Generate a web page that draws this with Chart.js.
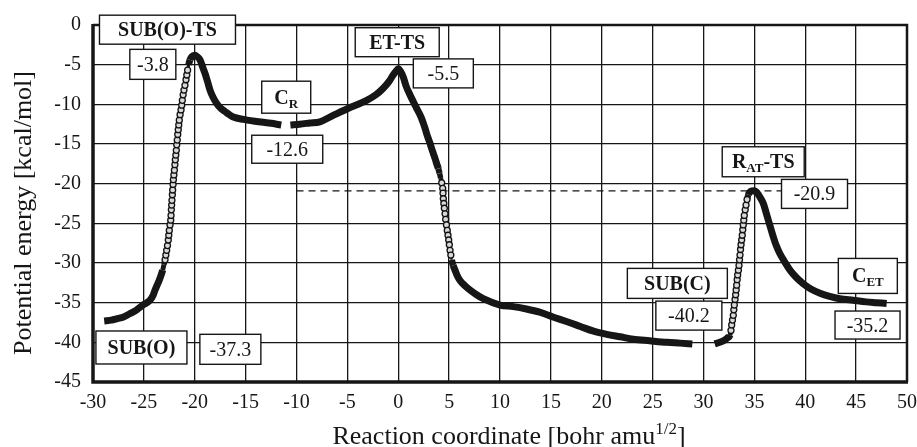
<!DOCTYPE html>
<html>
<head>
<meta charset="utf-8">
<script src="https://cdn.jsdelivr.net/npm/chart.js@4"></script>
<style>
  html, body { margin: 0; padding: 0; background: #fff; }
  #c { display: block; }
</style>
</head>
<body>
<canvas id="c" width="917" height="447"></canvas>
<script>
// IRC profile (three separate pieces)
const seg1X = [-28.9, -28.2, -27.6, -27.0, -26.4, -25.7, -25.1, -24.7, -24.4, -24.1, -23.9, -23.7, -23.5, -23.3, -23.15, -23.03, -22.92, -22.84, -22.76, -22.68, -22.6, -22.55, -22.5, -22.43, -22.36, -22.33, -22.3, -22.27, -22.24, -22.2, -22.17, -22.13, -22.1, -22.05, -22.0, -21.95, -21.91, -21.86, -21.81, -21.77, -21.72, -21.67, -21.62, -21.57, -21.52, -21.44, -21.35, -21.28, -21.22, -21.14, -21.06, -20.96, -20.86, -20.78, -20.7, -20.6, -20.47, -20.3, -20.0, -19.75, -19.48, -19.25, -18.99, -18.75, -18.5, -18.2, -17.84, -17.45, -17.03, -16.6, -16.21, -15.2, -14.25, -13.1, -11.95, -11.5];
const seg1Y = [-37.3, -37.2, -37.0, -36.8, -36.4, -35.9, -35.3, -35.0, -34.7, -34.1, -33.4, -32.8, -32.2, -31.5, -30.9, -30.2, -29.6, -29.0, -28.4, -27.8, -27.1, -26.5, -25.9, -25.2, -24.6, -24.0, -23.3, -22.7, -22.1, -21.4, -20.8, -20.1, -19.5, -18.9, -18.3, -17.6, -17.0, -16.4, -15.8, -15.1, -14.5, -13.8, -13.2, -12.6, -12.0, -11.3, -10.7, -10.1, -9.5, -8.8, -8.2, -7.6, -6.9, -6.3, -5.7, -5.0, -4.4, -4.0, -3.8, -4.0, -4.4, -5.2, -6.1, -7.1, -8.2, -9.1, -9.9, -10.5, -10.9, -11.3, -11.6, -11.9, -12.1, -12.3, -12.5, -12.6];

const seg2X = [-10.6, -9.7, -8.7, -7.7, -6.4, -5.0, -3.1, -2.2, -1.5, -0.9, -0.5, -0.2, 0.0, 0.25, 0.5, 0.8, 1.08, 1.32, 1.57, 1.81, 2.05, 2.3, 2.47, 2.63, 2.79, 2.95, 3.12, 3.29, 3.45, 3.61, 3.78, 3.94, 4.06, 4.17, 4.27, 4.37, 4.4, 4.43, 4.48, 4.53, 4.6, 4.66, 4.74, 4.82, 4.89, 4.96, 5.02, 5.09, 5.17, 5.25, 5.4, 5.58, 5.8, 6.07, 6.5, 7.05, 7.7, 8.36, 10.0, 11.3, 12.6, 13.9, 15.2, 16.6, 17.9, 19.2, 20.5, 21.8, 23.1, 24.7, 26.4, 27.7, 28.9];
const seg2Y = [-12.6, -12.5, -12.35, -12.2, -11.4, -10.55, -9.5, -8.8, -8.0, -7.1, -6.3, -5.8, -5.5, -5.9, -6.6, -7.8, -8.6, -9.25, -9.9, -10.5, -11.1, -11.8, -12.4, -13.0, -13.7, -14.3, -14.9, -15.6, -16.2, -16.8, -17.5, -18.1, -18.7, -19.3, -19.9, -20.6, -21.2, -21.9, -22.5, -23.1, -23.8, -24.5, -25.2, -25.9, -26.5, -27.1, -27.7, -28.4, -29.0, -29.6, -30.3, -30.9, -31.6, -32.2, -32.8, -33.4, -34.0, -34.5, -35.3, -35.5, -35.8, -36.2, -36.8, -37.4, -38.0, -38.6, -39.0, -39.3, -39.6, -39.8, -40.0, -40.1, -40.2];

const seg3X = [31.1, 31.6, 32.1, 32.4, 32.6, 32.7, 32.77, 32.85, 32.93, 32.98, 33.03, 33.1, 33.16, 33.21, 33.26, 33.31, 33.36, 33.43, 33.49, 33.54, 33.59, 33.64, 33.69, 33.75, 33.81, 33.86, 33.91, 33.96, 34.01, 34.1, 34.18, 34.28, 34.4, 34.6, 35.0, 35.3, 35.55, 35.88, 36.12, 36.37, 36.6, 36.86, 37.15, 37.5, 38.0, 38.5, 39.1, 39.8, 40.6, 41.45, 42.4, 43.4, 44.7, 46.0, 47.0, 48.0];
const seg3Y = [-40.2, -40.0, -39.7, -39.4, -39.1, -38.5, -37.8, -37.2, -36.6, -35.9, -35.3, -34.6, -34.0, -33.4, -32.8, -32.1, -31.5, -30.9, -30.3, -29.6, -29.0, -28.3, -27.7, -27.1, -26.5, -25.8, -25.2, -24.6, -24.0, -23.3, -22.7, -22.0, -21.4, -21.0, -20.9, -21.2, -21.7, -22.5, -23.5, -24.6, -25.6, -26.7, -27.8, -28.8, -29.9, -30.9, -31.8, -32.6, -33.3, -33.8, -34.2, -34.5, -34.7, -34.9, -35.0, -35.1];

// R_AT-TS reference level
const refX = [-10, 37.7];
const refY = [-20.9, -20.9];

// boxed labels: anchor in data units, box size in px
const boxLabels = [
    { x: -22.68, y: -0.59, w: 136, h: 29, runs: [['SUB(O)-TS', 'b']] },
    { x: -24.12, y: -4.96, w: 46, h: 30, runs: [['-3.8', 'n']] },
    { x: -11.01, y: -9.10, w: 49, h: 32, runs: [['C', 'b'], ['R', 'sub']] },
    { x: -10.91, y: -15.66, w: 71, h: 28, runs: [['-12.6', 'n']] },
    { x: -0.10, y: -2.17, w: 84, h: 29, runs: [['ET-TS', 'b']] },
    { x: 4.43, y: -6.10, w: 60, h: 29, runs: [['-5.5', 'n']] },
    { x: 35.87, y: -17.24, w: 82, h: 30, runs: [['R', 'b'], ['AT', 'sub'], ['-TS', 'b']] },
    { x: 40.91, y: -21.29, w: 66, h: 29, runs: [['-20.9', 'n']] },
    { x: 27.43, y: -32.57, w: 100, h: 30, runs: [['SUB(C)', 'b']] },
    { x: 28.56, y: -36.63, w: 66, h: 29, runs: [['-40.2', 'n']] },
    { x: 46.15, y: -31.63, w: 59, h: 35, runs: [['C', 'b'], ['ET', 'sub']] },
    { x: 46.12, y: -37.82, w: 65, h: 28, runs: [['-35.2', 'n']] },
    { x: -25.24, y: -40.65, w: 91, h: 33, runs: [['SUB(O)', 'b']] },
    { x: -16.50, y: -40.88, w: 61, h: 30, runs: [['-37.3', 'n']] }
];

const SERIF = '"Liberation Serif", "Times New Roman", serif';
const INK = '#161616';

function pts(xs, ys) {
    return xs.map((x, i) => ({ x: x, y: ys[i] }));
}

// local steepness in pixel terms (dy px / dx px)
function steep(a, b) {
    const dx = Math.abs(b.x - a.x) * 10.175;
    const dy = Math.abs(b.y - a.y) * 7.93;
    return dx === 0 ? 99 : dy / dx;
}
function bandWidth(ctx) {
    const s = steep(ctx.p0.parsed, ctx.p1.parsed);
    if (s < 3.5) return 7;
    if (s < 6.5) return 7 - (s - 3.5) * 2;
    return 1.2;
}
function pointR(ctx) {
    const d = ctx.dataset.data;
    const i = ctx.dataIndex;
    const a = d[Math.max(0, i - 1)], b = d[Math.min(d.length - 1, i + 1)];
    return steep(a, b) > 4.5 ? 3 : 0;
}

function font(kind) {
    if (kind === 'b') return 'bold 20px ' + SERIF;
    if (kind === 'sub') return 'bold 13px ' + SERIF;
    if (kind === 'sup') return '17px ' + SERIF;
    if (kind === 'title') return '26px ' + SERIF;
    return '20px ' + SERIF;
}
function drawRuns(ctx, runs, cx, cy, cap) {
    let total = 0;
    runs.forEach(r => { ctx.font = font(r[1]); total += ctx.measureText(r[0]).width; });
    let x = cx - total / 2;
    const base = cy + cap / 2;
    ctx.textAlign = 'left';
    ctx.textBaseline = 'alphabetic';
    runs.forEach(r => {
        ctx.font = font(r[1]);
        let y = base;
        if (r[1] === 'sub') y += 4;
        if (r[1] === 'sup') y -= 10;
        ctx.fillText(r[0], x, y);
        x += ctx.measureText(r[0]).width;
    });
}

const decor = {
    id: 'decor',
    afterDatasetsDraw(chart) {
        const ctx = chart.ctx;
        const a = chart.chartArea;
        const xs = chart.scales.x, ys = chart.scales.y;
        ctx.save();
        // plot frame
        ctx.strokeStyle = INK;
        ctx.lineWidth = 2.5;
        ctx.beginPath();
        ctx.moveTo(a.left, a.top); ctx.lineTo(a.right, a.top); ctx.lineTo(a.right, a.bottom);
        ctx.stroke();
        ctx.lineWidth = 3.5;
        ctx.beginPath();
        ctx.moveTo(a.right + 1, a.bottom); ctx.lineTo(a.left, a.bottom); ctx.lineTo(a.left, a.top - 1);
        ctx.stroke();
        // boxed labels
        boxLabels.forEach(l => {
            const cx = xs.getPixelForValue(l.x);
            const cy = ys.getPixelForValue(l.y);
            ctx.fillStyle = '#fff';
            ctx.fillRect(cx - l.w / 2, cy - l.h / 2, l.w, l.h);
            ctx.strokeStyle = INK;
            ctx.lineWidth = 1.4;
            ctx.strokeRect(cx - l.w / 2, cy - l.h / 2, l.w, l.h);
            ctx.fillStyle = INK;
            drawRuns(ctx, l.runs, cx, cy, 13);
        });
        // axis titles
        ctx.fillStyle = INK;
        drawRuns(ctx, [['Reaction coordinate [bohr amu', 'title'], ['1/2', 'sup'], [']', 'title']],
            (a.left + a.right) / 2 + 9, 435, 17);
        ctx.save();
        ctx.translate(22, 213);
        ctx.rotate(-Math.PI / 2);
        drawRuns(ctx, [['Potential energy [kcal/mol]', 'title']], 0, 0, 17);
        ctx.restore();
        ctx.restore();
    }
};

const curveStyle = {
    showLine: true,
    borderColor: INK,
    cubicInterpolationMode: 'monotone',
    segment: { borderWidth: bandWidth },
    pointRadius: pointR,
    pointHoverRadius: 0,
    pointBorderWidth: 1.3,
    pointBorderColor: '#111',
    pointBackgroundColor: '#d8d8d8',
    order: 1
};

new Chart(document.getElementById('c'), {
    type: 'scatter',
    data: {
        datasets: [
            Object.assign({ data: pts(seg1X, seg1Y) }, curveStyle),
            Object.assign({ data: pts(seg2X, seg2Y) }, curveStyle),
            Object.assign({ data: pts(seg3X, seg3Y) }, curveStyle),
            {
                data: pts(refX, refY),
                showLine: true,
                borderColor: INK,
                borderWidth: 1.3,
                borderDash: [7, 5],
                pointRadius: 0,
                order: 2
            }
        ]
    },
    options: {
        responsive: false,
        devicePixelRatio: 1,
        animation: false,
        events: [],
        layout: { padding: { top: 25, right: 0, left: 0, bottom: 0 } },
        plugins: { legend: { display: false }, tooltip: { enabled: false } },
        scales: {
            x: {
                type: 'linear', min: -30, max: 50,
                afterFit: s => { s.height = 65; s.paddingRight = 10; },
                grid: { color: INK, lineWidth: 1.3, drawTicks: false },
                border: { display: false },
                ticks: { stepSize: 5, padding: 9, color: INK, font: { family: SERIF, size: 20 }, maxRotation: 0 }
            },
            y: {
                type: 'linear', min: -45, max: 0,
                afterFit: s => { s.width = 93; },
                grid: { color: INK, lineWidth: 1.3, drawTicks: false },
                border: { display: false },
                ticks: { stepSize: 5, padding: 12, color: INK, font: { family: SERIF, size: 20 } }
            }
        }
    },
    plugins: [decor]
});
</script>
</body>
</html>
